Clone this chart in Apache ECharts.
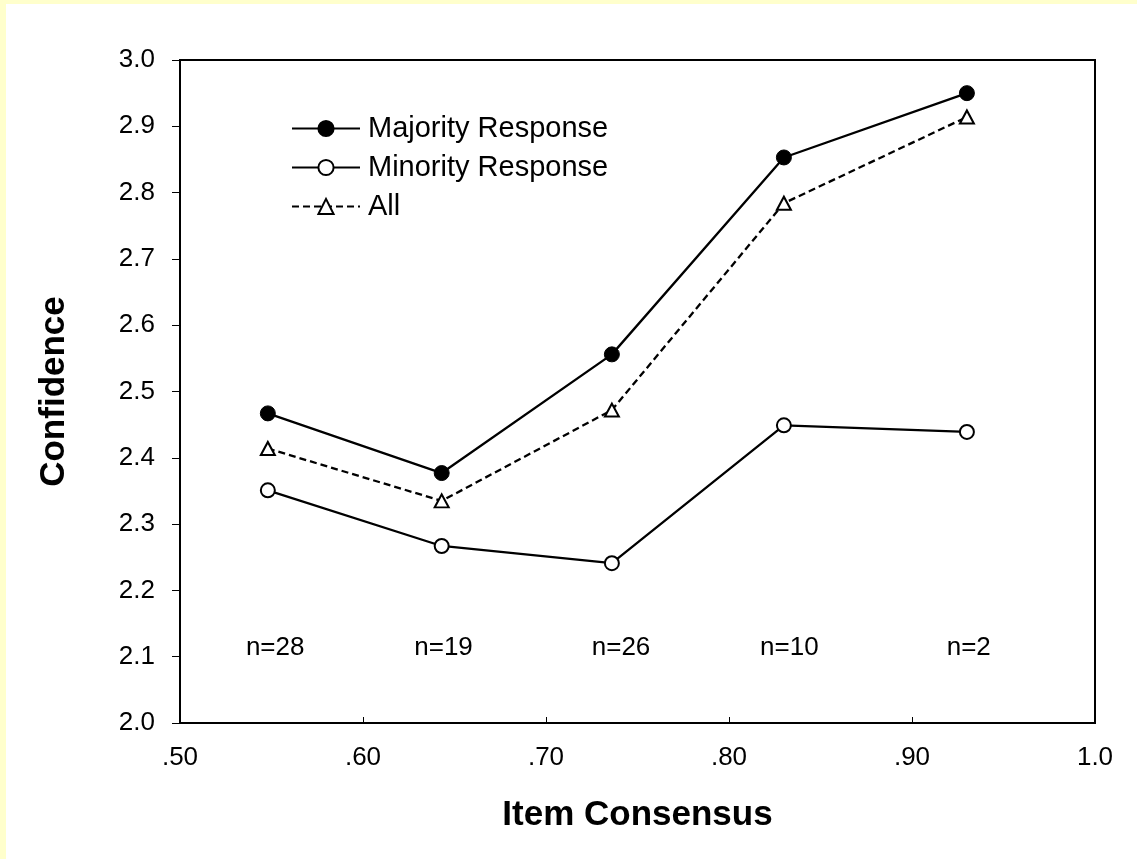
<!DOCTYPE html>
<html>
<head>
<meta charset="utf-8">
<script src="https://cdn.jsdelivr.net/npm/echarts@6/dist/echarts.min.js"></script>
<style>
  html, body { margin: 0; padding: 0; width: 1137px; height: 859px; background: #FFFFCC; overflow: hidden; }
  #chart { position: absolute; left: 6px; top: 4px; width: 1131px; height: 855px; background: #ffffff; }
</style>
</head>
<body>
<div id="chart"></div>
<script>
// ---- data ----
const xValues = [0.548, 0.643, 0.736, 0.830, 0.930];
const majority = [2.467, 2.377, 2.556, 2.853, 2.950];
const minority = [2.351, 2.267, 2.241, 2.449, 2.439];
const allResp  = [2.414, 2.335, 2.472, 2.784, 2.914];
const nLabels = ['n=28', 'n=19', 'n=26', 'n=10', 'n=2'];
const nLabelX = [0.552, 0.644, 0.741, 0.833, 0.931];
const nLabelY = 2.113;
const xTickLabels = ['.50', '.60', '.70', '.80', '.90', '1.0'];
const seriesNames = ['Majority Response', 'Minority Response', 'All'];

const FONT = '"Liberation Sans", Arial, sans-serif';
const pair = (xs, ys) => xs.map((x, i) => [x, ys[i]]);

const chart = echarts.init(document.getElementById('chart'), null, { renderer: 'canvas' });
chart.setOption({
  animation: false,
  backgroundColor: 'transparent',
  textStyle: { fontFamily: FONT, color: '#000' },
  grid: {
    left: 174, top: 56, right: 42, bottom: 136,
    show: true, borderColor: '#000', borderWidth: 2, backgroundColor: 'transparent'
  },
  legend: {
    data: seriesNames,
    orient: 'vertical',
    left: 280, top: 105,
    itemWidth: 68, itemHeight: 19, itemGap: 10,
    textStyle: { fontFamily: FONT, fontSize: 29, color: '#000', padding: [0, 0, 0, 3] },
    selectedMode: false
  },
  xAxis: {
    type: 'value', min: 0.5, max: 1.0, interval: 0.1,
    name: 'Item Consensus', nameLocation: 'middle', nameGap: 75,
    nameTextStyle: { fontFamily: FONT, fontSize: 35, fontWeight: 'bold', color: '#000' },
    axisLine: { show: true, lineStyle: { color: '#000', width: 2 } },
    axisTick: { show: true, inside: true, length: 6, lineStyle: { color: '#000', width: 1 } },
    splitLine: { show: false },
    axisLabel: {
      fontFamily: FONT, fontSize: 26, color: '#000', margin: 22,
      formatter: v => xTickLabels[Math.round((v - 0.5) / 0.1)]
    }
  },
  yAxis: {
    type: 'value', min: 2.0, max: 3.0, interval: 0.1,
    name: 'Confidence', nameLocation: 'middle', nameGap: 108, nameRotate: 90,
    nameTextStyle: { fontFamily: FONT, fontSize: 35, fontWeight: 'bold', color: '#000' },
    axisLine: { show: true, lineStyle: { color: '#000', width: 2 } },
    axisTick: { show: true, inside: false, length: 8, lineStyle: { color: '#000', width: 1 } },
    splitLine: { show: false },
    axisLabel: {
      fontFamily: FONT, fontSize: 26, color: '#000', margin: 25,
      formatter: v => v.toFixed(1)
    }
  },
  series: [
    {
      name: seriesNames[0], type: 'line', data: pair(xValues, majority),
      symbol: 'circle', symbolSize: 15,
      lineStyle: { color: '#000', width: 2.3 },
      itemStyle: { color: '#000', borderColor: '#000', borderWidth: 1 }
    },
    {
      name: seriesNames[1], type: 'line', data: pair(xValues, minority),
      symbol: 'circle', symbolSize: 14,
      lineStyle: { color: '#000', width: 2.3 },
      itemStyle: { color: '#fff', borderColor: '#000', borderWidth: 2 }
    },
    {
      name: seriesNames[2], type: 'line', data: pair(xValues, allResp),
      symbol: 'triangle', symbolSize: [14, 13],
      lineStyle: { color: '#000', width: 2.3, type: [7, 4] },
      itemStyle: { color: '#fff', borderColor: '#000', borderWidth: 2 }
    },
    {
      name: 'n', type: 'scatter', symbolSize: 0, silent: true,
      itemStyle: { opacity: 1, color: '#000' },
      data: nLabelX.map(x => [x, nLabelY]),
      label: {
        show: true, position: 'inside',
        fontFamily: FONT, fontSize: 26, color: '#000',
        textBorderWidth: 0, opacity: 1,
        formatter: p => nLabels[p.dataIndex]
      }
    }
  ]
});
</script>
</body>
</html>
